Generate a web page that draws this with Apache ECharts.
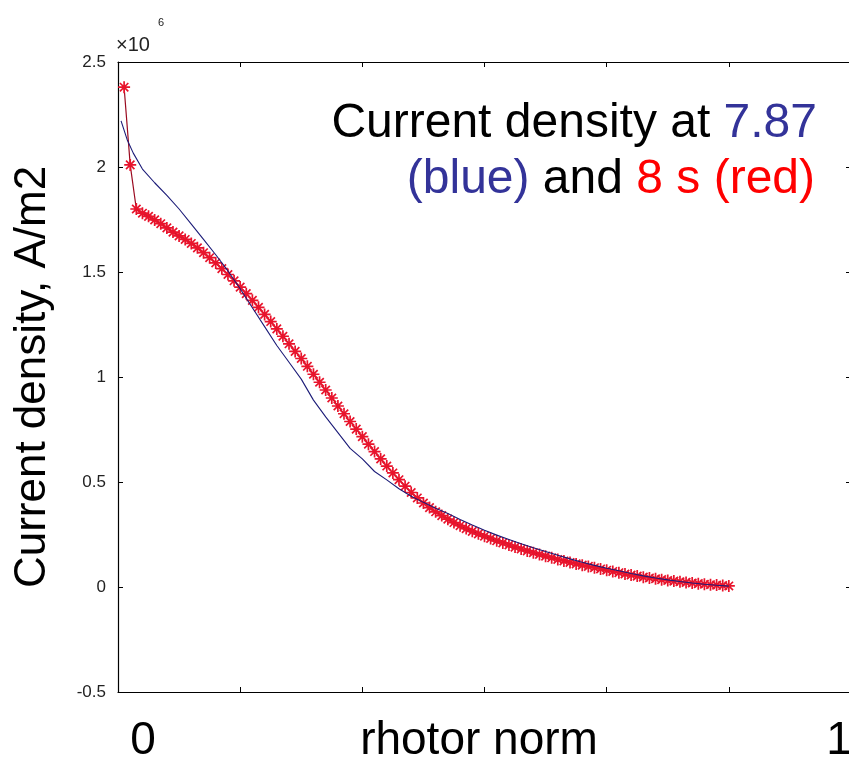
<!DOCTYPE html>
<html>
<head>
<meta charset="utf-8">
<script src="https://cdn.jsdelivr.net/npm/echarts@6/dist/echarts.min.js"></script>
<style>
html,body{margin:0;padding:0;background:#fff;overflow:hidden;}
#wrap{width:849px;height:762px;overflow:hidden;position:relative;}
#chart{width:853px;height:762px;position:absolute;left:0;top:0;}
</style>
</head>
<body>
<div id="wrap"><div id="chart"></div></div>
<script>
// rho (normalized toroidal flux radius) grid of the red (8 s) profile
var redRho = [0.01,0.02,0.03,0.04,0.05,0.06,0.07,0.08,0.09,0.10,
  0.11,0.12,0.13,0.14,0.15,0.16,0.17,0.18,0.19,0.20,
  0.21,0.22,0.23,0.24,0.25,0.26,0.27,0.28,0.29,0.30,
  0.31,0.32,0.33,0.34,0.35,0.36,0.37,0.38,0.39,0.40,
  0.41,0.42,0.43,0.44,0.45,0.46,0.47,0.48,0.49,0.50,
  0.51,0.52,0.53,0.54,0.55,0.56,0.57,0.58,0.59,0.60,
  0.61,0.62,0.63,0.64,0.65,0.66,0.67,0.68,0.69,0.70,
  0.71,0.72,0.73,0.74,0.75,0.76,0.77,0.78,0.79,0.80,
  0.81,0.82,0.83,0.84,0.85,0.86,0.87,0.88,0.89,0.90,
  0.91,0.92,0.93,0.94,0.95,0.96,0.97,0.98,0.99,1.00];
// current density at 8 s, units of 10^6 A/m2
var redJ = [2.38,2.01,1.80,1.78,1.765,1.748,1.73,1.71,1.69,1.672,
  1.655,1.636,1.615,1.592,1.568,1.543,1.516,1.488,1.458,1.428,
  1.397,1.365,1.332,1.298,1.264,1.229,1.194,1.158,1.122,1.088,
  1.051,1.013,0.975,0.938,0.900,0.862,0.825,0.788,0.752,0.716,
  0.680,0.645,0.610,0.576,0.543,0.511,0.480,0.450,0.424,0.400,
  0.378,0.358,0.340,0.323,0.307,0.292,0.278,0.265,0.253,0.242,
  0.231,0.220,0.210,0.200,0.190,0.181,0.172,0.163,0.155,0.147,
  0.139,0.131,0.124,0.117,0.110,0.104,0.098,0.092,0.086,0.080,
  0.074,0.068,0.062,0.057,0.052,0.047,0.043,0.039,0.035,0.031,
  0.028,0.025,0.022,0.019,0.016,0.013,0.011,0.009,0.007,0.005];
// current density at 7.87 s (blue), units of 10^6 A/m2
var blueRho = [0.005,0.015,0.025,0.04,0.06,0.08,0.10,0.12,0.14,0.16,
  0.18,0.20,0.22,0.24,0.26,0.28,0.30,0.32,0.34,0.36,
  0.38,0.40,0.42,0.44,0.46,0.48,0.50,0.52,0.54,0.56,
  0.58,0.60,0.62,0.64,0.66,0.68,0.70,0.72,0.74,0.76,
  0.78,0.80,0.82,0.84,0.86,0.88,0.90,0.92,0.94,0.96,0.98,1.00];
var blueJ = [2.22,2.13,2.066,1.99,1.925,1.865,1.80,1.728,1.655,1.582,
  1.505,1.42,1.33,1.24,1.15,1.07,0.99,0.89,0.81,0.735,
  0.66,0.61,0.55,0.51,0.468,0.432,0.403,0.375,0.35,0.322,
  0.295,0.270,0.247,0.226,0.206,0.187,0.169,0.151,0.134,0.118,
  0.103,0.089,0.077,0.064,0.053,0.043,0.034,0.026,0.019,0.013,0.008,0.004];
var yTicks = [-0.5, 0, 0.5, 1, 1.5, 2, 2.5];

function pairs(xs, ys){ var o=[]; for(var i=0;i<xs.length;i++){ o.push([xs[i], ys[i]]); } return o; }

var chart = echarts.init(document.getElementById('chart'), null, {renderer:'canvas'});
var FF = 'Liberation Sans, Arial, sans-serif';
function axisBase(showLine){
  return {
    axisLine:{show:showLine, onZero:false, lineStyle:{color:'#000', width:1.2}},
    axisTick:{show:true, inside:true, length:5, lineStyle:{color:'#000', width:1}},
    splitLine:{show:false}
  };
}
var option = {
  animation:false,
  backgroundColor:'#fff',
  grid:{left:118, right:2, top:62, bottom:70, containLabel:false},
  xAxis:[
    Object.assign({type:'value', min:0, max:1.2, interval:0.2, position:'bottom', axisLabel:{show:false}}, axisBase(true)),
    Object.assign({type:'value', min:0, max:1.2, interval:0.2, position:'top', axisLabel:{show:false}}, axisBase(true))
  ],
  yAxis:[
    Object.assign({type:'value', min:-0.5, max:2.5, interval:0.5, position:'left',
      axisLabel:{show:true, margin:12, color:'#222', fontSize:17, fontFamily:FF,
        formatter:function(v){ return yTicks.indexOf(+v.toFixed(1))>=0 ? String(+v.toFixed(1)) : ''; }}}, axisBase(true)),
    Object.assign({type:'value', min:-0.5, max:2.5, interval:0.5, position:'right', axisLabel:{show:false}}, axisBase(true))
  ],
  series:[
    {
      type:'line', name:'8 s', data:pairs(redRho, redJ),
      symbol:'path://M0,5L10,5M5,0L5,10M1.5,1.5L8.5,8.5M8.5,1.5L1.5,8.5',
      symbolSize:12, showSymbol:true,
      itemStyle:{color:'rgba(0,0,0,0)', borderColor:'#e8142c', borderWidth:1.7},
      lineStyle:{color:'#9a0a20', width:1.2}, z:2
    },
    {
      type:'line', name:'7.87 s', data:pairs(blueRho, blueJ),
      symbol:'none', lineStyle:{color:'#1c1c78', width:1.1}, z:3
    }
  ],
  graphic:[
    {type:'text', left:116, top:35, style:{text:'\u00d710', fontSize:20, fill:'#222', fontFamily:FF}},
    {type:'text', left:158, top:17, style:{text:'6', fontSize:11, fill:'#222', fontFamily:FF}},
    {type:'text', x:817, y:100, style:{text:'Current density at {b|7.87}', align:'right', verticalAlign:'top',
      fontSize:48, fill:'#000', fontFamily:FF,
      rich:{b:{fill:'#333399', fontSize:48, fontFamily:FF}}}},
    {type:'text', x:815, y:156, style:{text:'{b|(blue)} and {r|8 s (red)}', align:'right', verticalAlign:'top',
      fontSize:48, fill:'#000', fontFamily:FF,
      rich:{b:{fill:'#333399', fontSize:48, fontFamily:FF}, r:{fill:'#ff0000', fontSize:48, fontFamily:FF}}}},
    {type:'text', x:11, y:377, rotation:Math.PI/2, style:{text:'Current density, A/m2', align:'center', verticalAlign:'top',
      fontSize:44, fill:'#000', fontFamily:FF}},
    {type:'text', x:143, y:718, style:{text:'0', align:'center', verticalAlign:'top', fontSize:46, fill:'#000', fontFamily:FF}},
    {type:'text', x:479, y:718, style:{text:'rhotor norm', align:'center', verticalAlign:'top', fontSize:46, fill:'#000', fontFamily:FF}},
    {type:'text', x:839, y:718, style:{text:'1', align:'center', verticalAlign:'top', fontSize:46, fill:'#000', fontFamily:FF}}
  ]
};
chart.setOption(option);
</script>
</body>
</html>
